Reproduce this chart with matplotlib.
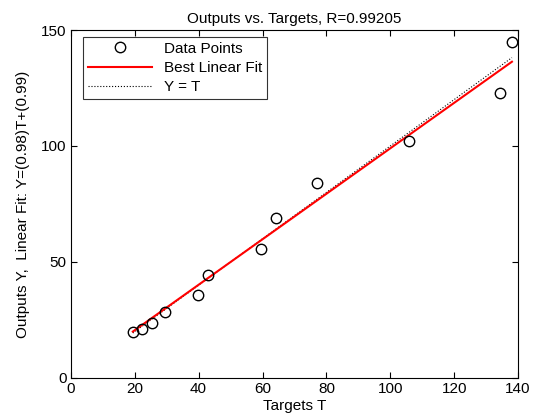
import matplotlib
matplotlib.use("Agg")
import matplotlib.pyplot as plt
import numpy as np

plt.rcParams['font.family'] = ['Liberation Sans', 'DejaVu Sans']

targets = [19.4, 22.2, 25.4, 29.4, 39.8, 42.9, 59.5, 64.2, 77.0, 105.9, 134.4, 138.1]
outputs = [19.8, 21.1, 23.7, 28.4, 35.8, 44.4, 55.6, 69.0, 84.1, 102.2, 122.8, 144.8]
fit_slope = 0.98
fit_intercept = 0.99
r_value = 0.99205

xticks = [0, 20, 40, 60, 80, 100, 120, 140]
yticks = [0, 50, 100, 150]

fig = plt.figure(figsize=(5.41, 4.15), dpi=100)
ax = fig.add_axes([0.131, 0.0892, 0.8265, 0.8385])

t = np.array(targets)
tl = np.array([t.min(), t.max()])
ax.plot(t, outputs, 'o', mfc='none', mec='black', ms=7.5, mew=1.0, label='Data Points', zorder=3)
ax.plot(tl, fit_slope * tl + fit_intercept, '-', color='red', lw=1.5, label='Best Linear Fit', zorder=2)
ax.plot(tl, tl, ':', color='black', lw=0.8, label='Y = T', zorder=1)

ax.set_xlim(0, 140)
ax.set_ylim(0, 150)
ax.set_xticks(xticks)
ax.set_yticks(yticks)
ax.tick_params(direction='in', top=True, right=True, labelsize=11, length=4, pad=3)
ax.set_title(f'Outputs vs. Targets, R={r_value}', fontsize=11, pad=5)
ax.set_xlabel('Targets T', fontsize=11, labelpad=2)
ax.set_ylabel(f'Outputs Y,  Linear Fit: Y=({fit_slope})T+({fit_intercept})', fontsize=11, labelpad=8)

leg = ax.legend(loc='upper left', fontsize=11, frameon=True, fancybox=False,
                edgecolor='black', handlelength=4.2, borderpad=0.3, labelspacing=0.35,
                bbox_to_anchor=(0.027, 0.98), borderaxespad=0)
leg.get_frame().set_linewidth(0.8)

fig.savefig('out.png', dpi=100, facecolor='white')
